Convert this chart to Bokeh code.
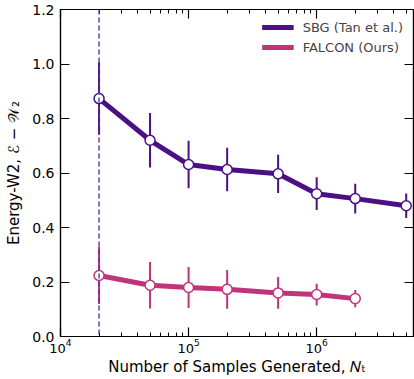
from bokeh.plotting import figure
from bokeh.models import (LinearAxis, LogAxis, Span, Legend, LegendItem,
                          FixedTicker, LogTicker, Range1d, CustomJSTickFormatter)
from bokeh.embed import file_html
from bokeh.resources import INLINE

# Data
n_samples_sbg = [2e4, 5e4, 1e5, 2e5, 5e5, 1e6, 2e6, 5e6]
sbg_mean = [0.873, 0.720, 0.631, 0.613, 0.597, 0.524, 0.506, 0.480]
sbg_err = [0.133, 0.100, 0.087, 0.080, 0.070, 0.060, 0.055, 0.045]

n_samples_falcon = [2e4, 5e4, 1e5, 2e5, 5e5, 1e6, 2e6]
falcon_mean = [0.224, 0.188, 0.180, 0.173, 0.160, 0.154, 0.139]
falcon_err = [0.105, 0.085, 0.075, 0.071, 0.058, 0.040, 0.032]

y_ticks = [0.0, 0.2, 0.4, 0.6, 0.8, 1.0, 1.2]
threshold_n = 2e4

SBG_C = "#4b1083"
FAL_C = "#c0347a"
FONT = "DejaVu Sans"

p = figure(width=414, height=379, x_axis_type="log", output_backend="svg",
           toolbar_location=None, x_range=Range1d(1e4, 5.7e6),
           y_range=Range1d(0.0, 1.2),
           min_border_left=60, min_border_right=1, min_border_top=9,
           min_border_bottom=43)
p.grid.visible = False
p.outline_line_color = "black"
p.outline_line_width = 1.2
p.background_fill_color = "white"
p.border_fill_color = "white"

# axes styling
xa = p.xaxis[0]
xa.ticker = LogTicker(num_minor_ticks=10)
ya = p.yaxis[0]
ya.ticker = FixedTicker(ticks=y_ticks)
ya.formatter = CustomJSTickFormatter(code="return tick.toFixed(1);")
for ax in (xa, ya):
    ax.major_tick_in = 9
    ax.major_tick_out = 0
    ax.minor_tick_in = 4
    ax.minor_tick_out = 0
    ax.axis_line_color = "black"
    ax.axis_line_width = 1.2
    ax.major_tick_line_width = 1.2
    ax.major_label_text_font = FONT
    ax.major_label_text_font_size = "14px"
    ax.major_label_text_color = "black"
    ax.axis_label_text_font = FONT
    ax.axis_label_text_font_size = "15px"
    ax.axis_label_text_font_style = "normal"
    ax.axis_label_text_color = "black"
xa.major_label_text_font_size = "13px"
ya.minor_tick_in = 0
ya.major_label_standoff = 6
xa.major_label_standoff = 2
xa.axis_label = "Number of Samples Generated, \U0001D441\u209C"
ya.axis_label = "Energy-W2, \u2130 \u2212 \U0001D4B2\u2082"
xa.axis_label_standoff = 2
ya.axis_label_standoff = 6

blank = CustomJSTickFormatter(code="return '';")
top = LogAxis(ticker=LogTicker(num_minor_ticks=10), formatter=blank,
              major_label_standoff=0,
              major_tick_in=9, major_tick_out=0, minor_tick_in=4, minor_tick_out=0,
              axis_line_width=1.2, major_tick_line_width=1.2)
right = LinearAxis(ticker=FixedTicker(ticks=y_ticks), formatter=blank,
                   major_label_standoff=0,
                   major_tick_in=9, major_tick_out=0, minor_tick_in=0, minor_tick_out=0,
                   axis_line_width=1.2, major_tick_line_width=1.2)
p.add_layout(top, "above")
p.add_layout(right, "right")

# vertical dashed line
p.add_layout(Span(location=threshold_n, dimension="height", line_color="#5b2a9a",
                  line_dash="5 3", line_width=1.5, line_alpha=0.9))

def draw(xs, ys, es, color):
    lo = [y - e for y, e in zip(ys, es)]
    hi = [y + e for y, e in zip(ys, es)]
    p.segment(x0=xs, y0=lo, x1=xs, y1=hi, line_color=color, line_width=2)
    r = p.line(xs, ys, line_color=color, line_width=5)
    p.scatter(xs, ys, size=10, fill_color="white", line_color=color, line_width=1.5)
    return r

r1 = draw(n_samples_sbg, sbg_mean, sbg_err, SBG_C)
r2 = draw(n_samples_falcon, falcon_mean, falcon_err, FAL_C)

legend = Legend(items=[LegendItem(label="SBG (Tan et al.)", renderers=[r1]),
                       LegendItem(label="FALCON (Ours)", renderers=[r2])],
                location="top_right", border_line_alpha=0, background_fill_alpha=0,
                label_text_font=FONT, label_text_font_size="13px",
                glyph_width=32, glyph_height=16, spacing=4, padding=6, margin=4,
                label_standoff=9)
p.add_layout(legend)

open("out.html", "w").write(file_html(p, INLINE))
